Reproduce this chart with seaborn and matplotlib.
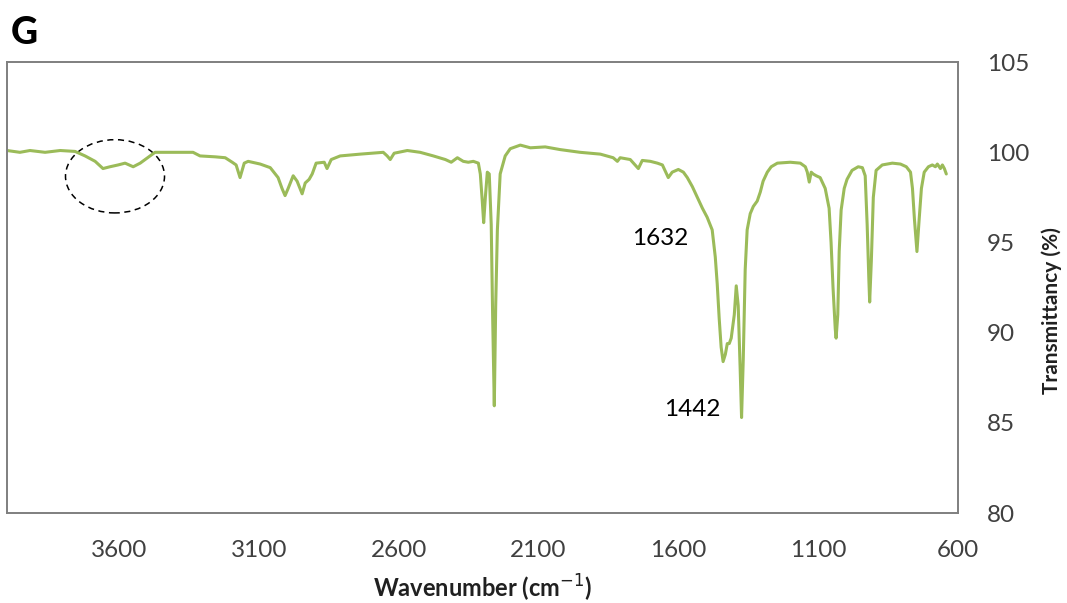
import matplotlib
matplotlib.use("Agg")
import matplotlib.pyplot as plt
from matplotlib.patches import Ellipse
import pandas as pd
import seaborn as sns

# FTIR spectrum: wavenumber (cm-1) and transmittance (%)
wavenumber = [
    4000, 3954, 3918, 3864, 3810, 3757, 3721, 3685, 3657, 3632, 3603, 3578,
    3549, 3524, 3489, 3471, 3417, 3335, 3310, 3256, 3220, 3195, 3181, 3167,
    3152, 3138, 3095, 3059, 3031, 3017, 3006, 2995, 2977, 2963, 2945, 2934,
    2920, 2909, 2895, 2866, 2856, 2841, 2809, 2737, 2655, 2641, 2630, 2616,
    2569, 2523, 2476, 2433, 2412, 2390, 2369, 2351, 2333, 2315, 2308, 2301,
    2296, 2290, 2283, 2276, 2269, 2264, 2258, 2253, 2247, 2237, 2219, 2201,
    2165, 2129, 2076, 2022, 1951, 1879, 1833, 1818, 1808, 1772, 1743, 1729,
    1700, 1675, 1657, 1636, 1622, 1600, 1582, 1568, 1550, 1532, 1514, 1497,
    1479, 1468, 1461, 1454, 1447, 1440, 1432, 1425, 1418, 1411, 1400, 1393,
    1386, 1379, 1374, 1368, 1361, 1354, 1343, 1332, 1318, 1307, 1297, 1282,
    1268, 1246, 1200, 1164, 1146, 1139, 1132, 1125, 1118, 1107, 1093, 1075,
    1061, 1054, 1047, 1039, 1036, 1030, 1025, 1018, 1007, 997, 979, 957,
    942, 932, 925, 919, 916, 910, 903, 893, 871, 835, 806, 785,
    770, 763, 756, 747, 739, 731, 721, 706, 692, 681, 674, 663,
    656, 649, 642,
]
transmittance = [
    100.1, 100.0, 100.1, 100.0, 100.1, 100.05, 99.8, 99.5, 99.1, 99.2, 99.3, 99.4,
    99.2, 99.4, 99.8, 100.0, 100.0, 100.0, 99.8, 99.75, 99.7, 99.45, 99.3, 98.6,
    99.4, 99.5, 99.35, 99.15, 98.6, 98.0, 97.6, 98.0, 98.7, 98.4, 97.7, 98.3,
    98.5, 98.8, 99.4, 99.45, 99.1, 99.6, 99.8, 99.9, 100.0, 99.8, 99.6, 99.95,
    100.1, 100.0, 99.8, 99.6, 99.45, 99.7, 99.5, 99.45, 99.5, 99.4, 98.8, 97.3,
    96.1, 97.5, 98.9, 98.8, 96.0, 91.0, 85.95, 91.5, 95.7, 98.8, 99.8, 100.2,
    100.4, 100.25, 100.3, 100.15, 100.0, 99.9, 99.7, 99.5, 99.7, 99.6, 99.1, 99.55,
    99.5, 99.4, 99.3, 98.6, 98.9, 99.05, 98.9, 98.6, 98.1, 97.5, 96.9, 96.4,
    95.7, 94.2, 92.7, 90.8, 89.2, 88.4, 88.8, 89.4, 89.4, 89.7, 91.0, 92.6,
    91.5, 88.0, 85.3, 88.5, 93.5, 95.7, 96.6, 97.0, 97.3, 97.8, 98.4, 98.9,
    99.2, 99.4, 99.45, 99.4, 99.2, 98.9, 98.35, 98.9, 98.8, 98.7, 98.6, 98.0,
    96.9, 95.0, 92.5, 90.2, 89.7, 91.0, 94.5, 96.8, 98.0, 98.5, 99.0, 99.2,
    99.15, 98.7, 96.0, 93.0, 91.7, 94.0, 97.5, 99.0, 99.3, 99.4, 99.35, 99.2,
    98.9, 98.0, 96.3, 94.5, 96.3, 98.0, 98.9, 99.2, 99.3, 99.2, 99.35, 99.1,
    99.3, 99.1, 98.8,
]

x_ticks = [3600, 3100, 2600, 2100, 1600, 1100, 600]
y_ticks = [80, 85, 90, 95, 100, 105]
peak_labels = ["1632", "1442"]

df = pd.DataFrame({"Wavenumber": wavenumber, "Transmittance": transmittance})

sns.set_theme(style="white")
plt.rcParams["font.family"] = ["Lato", "DejaVu Sans"]

fig = plt.figure(figsize=(10.67, 6.03), dpi=100)
ax = fig.add_axes([0.0066, 0.149, 0.8913, 0.748])

sns.lineplot(data=df, x="Wavenumber", y="Transmittance", sort=False,
             color="#9BBB59", linewidth=2.2, ax=ax)

ax.set_xlim(4000, 600)
ax.set_ylim(80, 105)
ax.set_xticks(x_ticks)
ax.set_yticks(y_ticks)
ax.yaxis.tick_right()
ax.yaxis.set_label_position("right")
ax.tick_params(axis="both", length=0, labelsize=17.5, colors="#404040")
ax.tick_params(axis="x", pad=19)
ax.tick_params(axis="y", pad=21)

for side in ["left", "right", "top", "bottom"]:
    ax.spines[side].set_visible(True)
    ax.spines[side].set_color("#7f7f7f")
    ax.spines[side].set_linewidth(1.4)

ax.set_xlabel("Wavenumber (cm$^{-1}$)", fontsize=17, fontweight="bold", color="#202020")
ax.set_ylabel("Transmittancy (%)", fontsize=15, fontweight="bold", color="#202020")
ax.xaxis.label.set_va("center")
ax.yaxis.label.set_va("center")
ax.yaxis.label.set_ha("center")
ax.xaxis.set_label_coords(0.5, -0.166)
ax.yaxis.set_label_coords(1.099, 0.45)

# peak annotations
ax.text(1664, 95.25, peak_labels[0], fontsize=17.5, ha="center", va="center", color="black")
ax.text(1550, 85.75, peak_labels[1], fontsize=17.5, ha="center", va="center", color="black")

# dashed ellipse around the broad O-H region
ax.add_patch(Ellipse((3614, 98.67), width=354, height=4.06, fill=False,
                     edgecolor="black", linestyle=(0, (4, 3)), linewidth=1.1))

fig.text(0.010, 0.945, "G", fontsize=27, fontweight="black", ha="left", va="center",
         color="black")

fig.savefig("out.png", dpi=100)
